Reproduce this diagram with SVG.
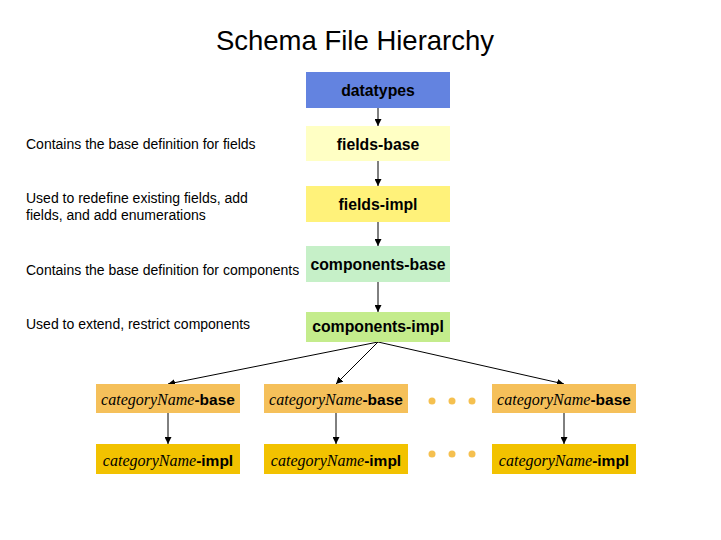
<svg xmlns="http://www.w3.org/2000/svg" width="721" height="540" viewBox="0 0 721 540">
  <defs>
    <marker id="arrow" viewBox="0 0 10 10" refX="10" refY="5" markerWidth="7" markerHeight="7" orient="auto" markerUnits="userSpaceOnUse">
      <path d="M0,0 L10,5 L0,10 z" fill="#000"/>
    </marker>
  </defs>
  <style>
    .title { font-family: "Liberation Sans", Arial, sans-serif; font-size: 27.5px; fill: #000; }
    .note { font-family: "Liberation Sans", Arial, sans-serif; font-size: 14px; fill: #000; }
    .lbl { font-family: "Liberation Sans", Arial, sans-serif; font-size: 15.8px; font-weight: bold; fill: #000; text-anchor: middle; }
    .cat { font-family: "Liberation Sans", Arial, sans-serif; font-size: 15.5px; font-weight: bold; fill: #000; text-anchor: middle; }
    .cat .it { font-family: "Liberation Serif", "Times New Roman", serif; font-style: italic; font-weight: normal; font-size: 16px; }
    .edge { stroke: #000; stroke-width: 1; fill: none; marker-end: url(#arrow); }
    .dot { fill: #f5c04f; }
  </style>
  <rect width="721" height="540" fill="#fff"/>

  <text class="title" x="355" y="50" text-anchor="middle">Schema File Hierarchy</text>

  <!-- side notes -->
  <text class="note" x="26" y="149">Contains the base definition for fields</text>
  <text class="note" x="26" y="203">Used to redefine existing fields, add</text>
  <text class="note" x="26" y="220">fields, and add enumerations</text>
  <text class="note" x="26" y="275">Contains the base definition for components</text>
  <text class="note" x="26" y="329">Used to extend, restrict components</text>

  <!-- connectors -->
  <g id="connectors">
    <line class="edge" x1="378" y1="108" x2="378" y2="126"/>
    <line class="edge" x1="378" y1="161" x2="378" y2="186"/>
    <line class="edge" x1="378" y1="222" x2="378" y2="246"/>
    <line class="edge" x1="378" y1="282" x2="378" y2="312"/>
    <line class="edge" x1="378" y1="342" x2="168" y2="384"/>
    <line class="edge" x1="378" y1="342" x2="336" y2="384"/>
    <line class="edge" x1="378" y1="342" x2="564" y2="384"/>
    <line class="edge" x1="168" y1="413" x2="168" y2="444"/>
    <line class="edge" x1="336" y1="413" x2="336" y2="444"/>
    <line class="edge" x1="564" y1="413" x2="564" y2="444"/>
  </g>

  <g id="datatypes">
    <rect x="306" y="72" width="144" height="36" fill="#6383e0"/>
    <text class="lbl" x="378" y="96">datatypes</text>
  </g>
  <g id="fields-base">
    <rect x="306" y="126" width="144" height="35" fill="#ffffc4"/>
    <text class="lbl" x="378" y="150">fields-base</text>
  </g>
  <g id="fields-impl">
    <rect x="306" y="186" width="144" height="36" fill="#fff27a"/>
    <text class="lbl" x="378" y="210">fields-impl</text>
  </g>
  <g id="components-base">
    <rect x="306" y="246" width="144" height="36" fill="#c6f0c8"/>
    <text class="lbl" x="378" y="270">components-base</text>
  </g>
  <g id="components-impl">
    <rect x="306" y="312" width="144" height="30" fill="#c4ec8c"/>
    <text class="lbl" x="378" y="332">components-impl</text>
  </g>

  <g id="category-base-1">
    <rect x="96" y="384" width="144" height="29" fill="#f5c05a"/>
    <text class="cat" x="168" y="405"><tspan class="it">categoryName</tspan>-base</text>
  </g>
  <g id="category-base-2">
    <rect x="264" y="384" width="144" height="29" fill="#f5c05a"/>
    <text class="cat" x="336" y="405"><tspan class="it">categoryName</tspan>-base</text>
  </g>
  <g id="category-base-n">
    <rect x="492" y="384" width="144" height="29" fill="#f5c05a"/>
    <text class="cat" x="564" y="405"><tspan class="it">categoryName</tspan>-base</text>
  </g>

  <g id="category-impl-1">
    <rect x="96" y="444" width="144" height="30" fill="#f2c200"/>
    <text class="cat" x="168" y="466"><tspan class="it">categoryName</tspan>-impl</text>
  </g>
  <g id="category-impl-2">
    <rect x="264" y="444" width="144" height="30" fill="#f2c200"/>
    <text class="cat" x="336" y="466"><tspan class="it">categoryName</tspan>-impl</text>
  </g>
  <g id="category-impl-n">
    <rect x="492" y="444" width="144" height="30" fill="#f2c200"/>
    <text class="cat" x="564" y="466"><tspan class="it">categoryName</tspan>-impl</text>
  </g>

  <!-- ellipses between columns -->
  <g id="ellipsis">
    <circle class="dot" cx="432" cy="401" r="3.5"/>
    <circle class="dot" cx="452" cy="401" r="3.5"/>
    <circle class="dot" cx="472" cy="401" r="3.5"/>
    <circle class="dot" cx="432" cy="454" r="3.5"/>
    <circle class="dot" cx="452" cy="454" r="3.5"/>
    <circle class="dot" cx="472" cy="454" r="3.5"/>
  </g>
</svg>
